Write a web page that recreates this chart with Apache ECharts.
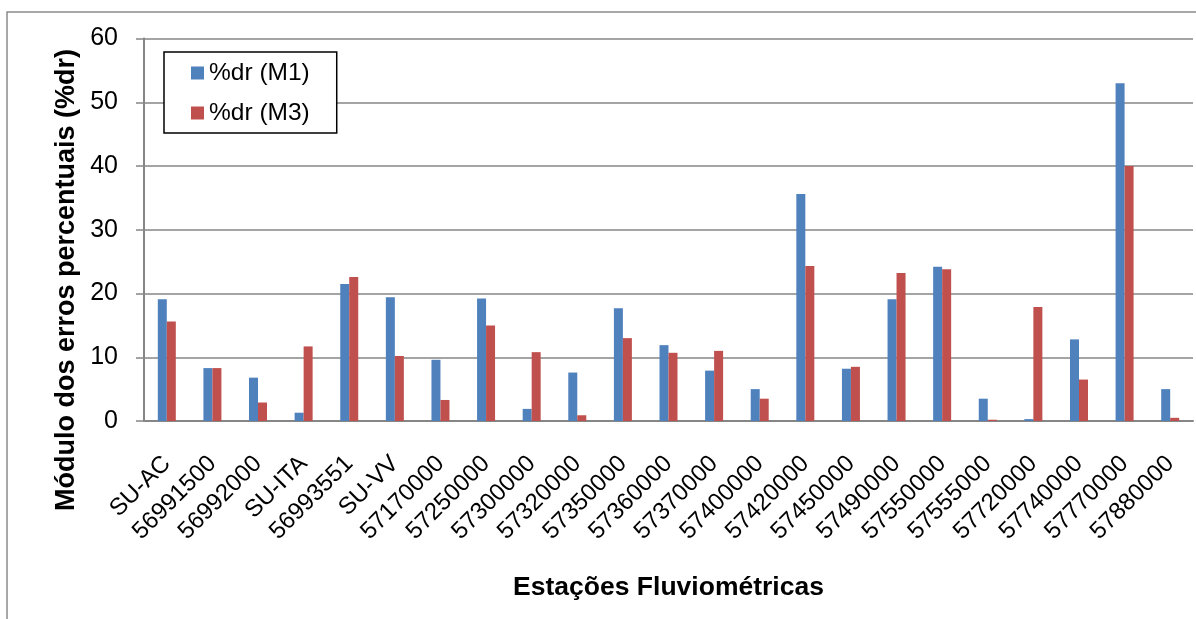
<!DOCTYPE html>
<html>
<head>
<meta charset="utf-8">
<script src="https://cdn.jsdelivr.net/npm/echarts@6/dist/echarts.min.js"></script>
<style>
html,body{margin:0;padding:0;background:#fff;}
#chart{width:1196px;height:619px;}
</style>
</head>
<body>
<div id="chart"></div>
<script>
const categories = ['SU-AC','56991500','56992000','SU-ITA','56993551','SU-VV','57170000','57250000','57300000','57320000','57350000','57360000','57370000','57400000','57420000','57450000','57490000','57550000','57555000','57720000','57740000','57770000','57880000'];
const seriesM1 = [19.1, 8.3, 6.8, 1.3, 21.5, 19.4, 9.6, 19.2, 1.9, 7.6, 17.7, 11.9, 7.9, 5.0, 35.6, 8.2, 19.1, 24.2, 3.5, 0.3, 12.8, 53.0, 5.0];
const seriesM3 = [15.6, 8.3, 2.9, 11.7, 22.6, 10.2, 3.3, 15.0, 10.8, 0.9, 13.0, 10.7, 11.0, 3.5, 24.3, 8.5, 23.2, 23.8, 0.2, 17.9, 6.5, 40.0, 0.5];
const seriesNames = ['%dr (M1)', '%dr (M3)'];
const yTicks = [0, 10, 20, 30, 40, 50, 60];

const FONT = "'Liberation Sans', Arial, sans-serif";
const chart = echarts.init(document.getElementById('chart'));
chart.setOption({
  animation: false,
  backgroundColor: '#fff',
  textStyle: { fontFamily: FONT },
  grid: { left: 144, right: 3, top: 38.5, bottom: 198, containLabel: false },
  graphic: [
    { type: 'rect', shape: { x: 7, y: 12, width: 1300, height: 800 }, style: { fill: 'none', stroke: '#8c8c8c', lineWidth: 1.5 }, silent: true },
    { type: 'text', x: 67, y: 280, rotation: Math.PI / 2,
      style: { text: 'Módulo dos erros percentuais (%dr)', font: "bold 27px " + FONT, fill: '#000', textAlign: 'center', textVerticalAlign: 'middle' } }
  ],
  legend: {
    orient: 'vertical', left: 164, top: 52,
    padding: [8, 27, 7, 27],
    itemGap: 14, itemWidth: 13, itemHeight: 13,
    borderColor: '#000', borderWidth: 1.5, backgroundColor: '#fff',
    icon: 'rect',
    textStyle: { fontSize: 24.5, lineHeight: 26, color: '#000', fontFamily: FONT },
    data: seriesNames
  },
  xAxis: {
    type: 'category', data: categories,
    name: 'Estações Fluviométricas', nameLocation: 'middle', nameGap: 153,
    nameTextStyle: { fontSize: 26.5, fontWeight: 'bold', color: '#000', fontFamily: FONT },
    axisLine: { lineStyle: { color: '#868686', width: 2 } },
    axisTick: { show: false },
    axisLabel: { interval: 0, rotate: 45, margin: 39, fontSize: 24, color: '#000', fontFamily: FONT }
  },
  yAxis: {
    type: 'value', min: yTicks[0], max: yTicks[yTicks.length - 1], interval: 10,
    axisLine: { show: true, lineStyle: { color: '#868686', width: 2 } },
    axisTick: { show: true, length: 8, lineStyle: { color: '#868686', width: 1.5 } },
    axisLabel: { fontSize: 25, margin: 26, color: '#000', fontFamily: FONT },
    splitLine: { lineStyle: { color: '#868686', width: 1.5 } }
  },
  series: [
    { name: seriesNames[0], type: 'bar', data: seriesM1, barWidth: 9, barGap: '0%', itemStyle: { color: '#4F81BD' } },
    { name: seriesNames[1], type: 'bar', data: seriesM3, barWidth: 9, barGap: '0%', itemStyle: { color: '#C0504D' } }
  ]
});
</script>
</body>
</html>
